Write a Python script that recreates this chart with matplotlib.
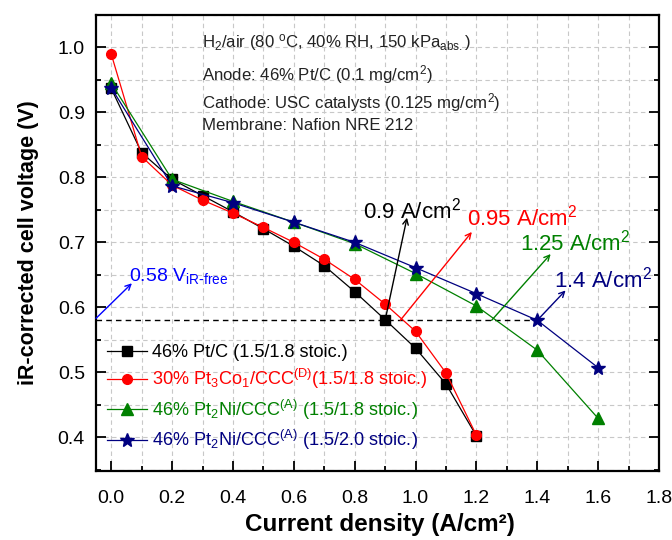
import matplotlib
matplotlib.use("Agg")
import matplotlib.pyplot as plt
from matplotlib.ticker import MultipleLocator, FormatStrFormatter

plt.rcParams['font.family'] = ['Liberation Sans', 'DejaVu Sans']
plt.rcParams['mathtext.default'] = 'regular'

# Data
x_ptc = [0.0, 0.1, 0.2, 0.3, 0.4, 0.5, 0.6, 0.7, 0.8, 0.9, 1.0, 1.1, 1.2]
y_ptc = [0.937, 0.838, 0.797, 0.772, 0.747, 0.721, 0.694, 0.664, 0.624, 0.581, 0.537, 0.482, 0.402]
x_ptco = [0.0, 0.1, 0.2, 0.3, 0.4, 0.5, 0.6, 0.7, 0.8, 0.9, 1.0, 1.1, 1.2]
y_ptco = [0.990, 0.832, 0.788, 0.765, 0.745, 0.723, 0.700, 0.674, 0.643, 0.605, 0.563, 0.499, 0.403]
x_ptni = [0.0, 0.2, 0.4, 0.6, 0.8, 1.0, 1.2, 1.4, 1.6]
y_ptni_18 = [0.945, 0.797, 0.763, 0.731, 0.698, 0.652, 0.602, 0.534, 0.429]
y_ptni_20 = [0.938, 0.787, 0.761, 0.731, 0.700, 0.661, 0.621, 0.580, 0.507]

labels = ["46% Pt/C (1.5/1.8 stoic.)",
          "30% Pt$_3$Co$_1$/CCC$^{(D)}$(1.5/1.8 stoic.)",
          "46% Pt$_2$Ni/CCC$^{(A)}$ (1.5/1.8 stoic.)",
          "46% Pt$_2$Ni/CCC$^{(A)}$ (1.5/2.0 stoic.)"]
colors = ["black", "#ff0000", "#008000", "#000080"]

v_ref = 0.58
cd_labels = ["0.9 A/cm$^2$", "0.95 A/cm$^2$", "1.25 A/cm$^2$", "1.4 A/cm$^2$"]
cd_values = [0.9, 0.95, 1.25, 1.4]

fig = plt.figure(figsize=(6.72, 5.40), dpi=100)
ax = fig.add_axes([96/672, 1 - 471/540, (659-96)/672, (471-15)/540])

ax.plot(x_ptc, y_ptc, '-s', color=colors[0], lw=0.9, ms=6.5, label=labels[0], zorder=3)
ax.plot(x_ptco, y_ptco, '-o', color=colors[1], lw=0.9, ms=7, label=labels[1], zorder=3)
ax.plot(x_ptni, y_ptni_18, '-^', color=colors[2], lw=0.9, ms=8, label=labels[2], zorder=3)
ax.plot(x_ptni, y_ptni_20, '-*', color=colors[3], lw=0.9, ms=10, label=labels[3], zorder=4)

ax.set_xlim(-0.05, 1.8)
ax.set_ylim(0.348, 1.05)

# dashed reference line
ax.plot([-0.05, 1.4], [v_ref, v_ref], ls=(0, (4, 3)), color='black', lw=1.0, zorder=2)

ax.xaxis.set_major_locator(MultipleLocator(0.2))
ax.xaxis.set_minor_locator(MultipleLocator(0.1))
ax.yaxis.set_major_locator(MultipleLocator(0.1))
ax.yaxis.set_minor_locator(MultipleLocator(0.05))
ax.xaxis.set_major_formatter(FormatStrFormatter('%.1f'))
ax.yaxis.set_major_formatter(FormatStrFormatter('%.1f'))

ax.grid(which='both', ls=(0, (4, 3)), color='#c8c8c8', lw=0.8, zorder=0)
ax.set_axisbelow(True)

ax.tick_params(which='both', direction='in', left=True, right=True, bottom=True, top=False,
               width=1.3, labelsize=14)
ax.tick_params(axis='x', which='both', pad=14)
ax.tick_params(axis='y', which='both', pad=8)
ax.tick_params(which='major', length=7)
ax.tick_params(which='minor', length=3.5)
for s in ax.spines.values():
    s.set_linewidth(1.6)

ax.set_xlabel("Current density (A/cm²)", fontsize=17.5, fontweight='bold')
ax.set_ylabel("iR-corrected cell voltage (V)", fontsize=15.5, fontweight='bold')
ax.xaxis.set_label_coords((380-96)/563, (471-525)/456)
ax.xaxis.label.set_va('center')
ax.yaxis.set_label_coords((29-96)/563, 0.5)
ax.yaxis.label.set_va('center')

# Info text
info = ["H$_2$/air (80 $^o$C, 40% RH, 150 kPa$_{abs.}$)",
        "Anode: 46% Pt/C (0.1 mg/cm$^2$)",
        "Cathode: USC catalysts (0.125 mg/cm$^2$)",
        "Membrane: Nafion NRE 212"]
info_y = [1.007, 0.958, 0.915, 0.880]
for t, yy in zip(info, info_y):
    ax.text(0.297, yy, t, fontsize=12.1, color='#222222', va='center', ha='left')

# 0.58 V annotation
ax.annotate("", xy=(0.068, 0.637), xytext=(-0.05, 0.583),
            arrowprops=dict(arrowstyle='->', color='#0000ff', lw=1.0, shrinkA=0, shrinkB=0))
ax.text(0.06, 0.648, "0.58 V$_{iR\\text{-}free}$", fontsize=14, color='#0000ff', va='center', ha='left')

# current density annotations
tips = [(0.972, 0.738), (1.185, 0.716), (1.444, 0.682), (1.493, 0.626)]
text_pos = [(0.827, 0.749), (1.17, 0.738), (1.344, 0.700), (1.456, 0.642)]
for c, lab, v, tip, tp in zip(colors, cd_labels, cd_values, tips, text_pos):
    ax.annotate("", xy=tip, xytext=(v, v_ref),
                arrowprops=dict(arrowstyle='->', color=c, lw=1.0, shrinkA=0, shrinkB=0), zorder=5)
    ax.text(tp[0], tp[1], lab, fontsize=16, color=c, va='center', ha='left')

leg = ax.legend(loc='center left', bbox_to_anchor=(0.0195, (471-398)/456), frameon=False, fontsize=13.1,
                handlelength=2.2, handletextpad=0.3, labelspacing=0.34, borderpad=0, borderaxespad=0)
for t, c in zip(leg.get_texts(), colors):
    t.set_color(c)

fig.savefig("out.png", dpi=100)
